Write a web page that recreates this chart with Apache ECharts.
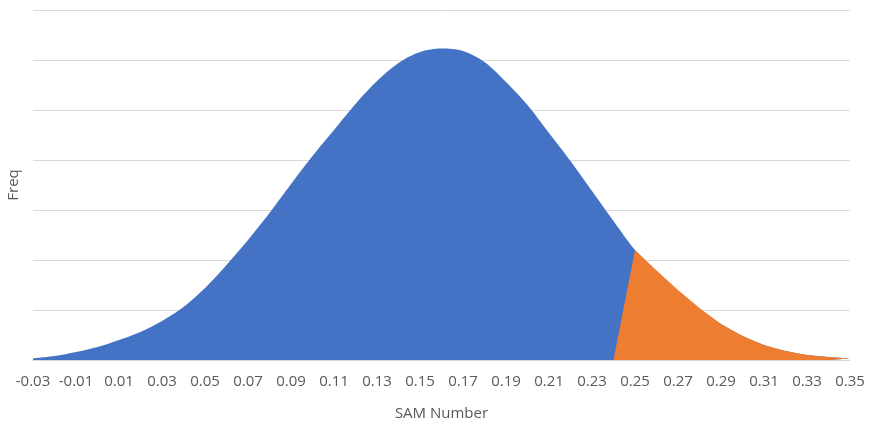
<!DOCTYPE html>
<html>
<head>
<meta charset="utf-8">
<script src="https://cdn.jsdelivr.net/npm/echarts@6/dist/echarts.min.js"></script>
<style>
html,body{margin:0;padding:0;background:#fff;}
#chart{width:871px;height:430px;}
</style>
</head>
<body>
<div id="chart"></div>
<script>
var categories = ['-0.03','-0.02','-0.01','0.00','0.01','0.02','0.03','0.04','0.05','0.06','0.07','0.08','0.09','0.10','0.11','0.12','0.13','0.14','0.15','0.16','0.17','0.18','0.19','0.20','0.21','0.22','0.23','0.24','0.25','0.26','0.27','0.28','0.29','0.30','0.31','0.32','0.33','0.34','0.35'];
var blueValues = [1.7,4,8,13,20,28,39,53,72,95,120,147,176,204,230,256,279,297,308,311.5,309,298,278,255,227,199,169,139,110,89,69,51,36,24,15,9,5,3,1.5];
var orangeValues = [null,null,null,null,null,null,null,null,null,null,null,null,null,null,null,null,null,null,null,null,null,null,null,null,null,null,null,0,110,89.5,70,52,36,24,15,9,5,3,1.5];
var xTitle = 'SAM Number';
var yTitle = 'Freq';

var chart = echarts.init(document.getElementById('chart'), null, {renderer:'canvas'});
var font = 'Open Sans';
chart.setOption({
  animation:false,
  grid:{left:33,right:21,top:10,bottom:70,containLabel:false,outerBoundsMode:'none'},
  xAxis:{
    type:'category',
    data:categories,
    boundaryGap:false,
    name:xTitle,
    nameLocation:'middle',
    nameGap:46,
    nameTextStyle:{color:'#595959',fontSize:15,fontFamily:font},
    axisLine:{show:true,lineStyle:{color:'#d9d9d9',width:1}},
    axisTick:{show:false},
    axisLabel:{interval:1,color:'#595959',fontSize:15,fontFamily:font,margin:14},
    splitLine:{show:false}
  },
  yAxis:{
    type:'value',
    min:0,max:350,interval:50,
    name:yTitle,
    nameLocation:'middle',
    nameGap:12,
    nameRotate:90,
    nameTextStyle:{color:'#595959',fontSize:15,fontFamily:font},
    axisLine:{show:false},
    axisTick:{show:false},
    axisLabel:{show:false},
    splitLine:{show:true,lineStyle:{color:'#d9d9d9',width:1}}
  },
  series:[
    {type:'line',data:blueValues,symbol:'none',smooth:0.3,connectNulls:false,
     lineStyle:{width:0},areaStyle:{color:'#4472C4',opacity:1},z:2},
    {type:'line',data:orangeValues,symbol:'none',smooth:false,connectNulls:false,
     lineStyle:{width:0},areaStyle:{color:'#ED7D31',opacity:1},z:3}
  ]
});
</script>
</body>
</html>
